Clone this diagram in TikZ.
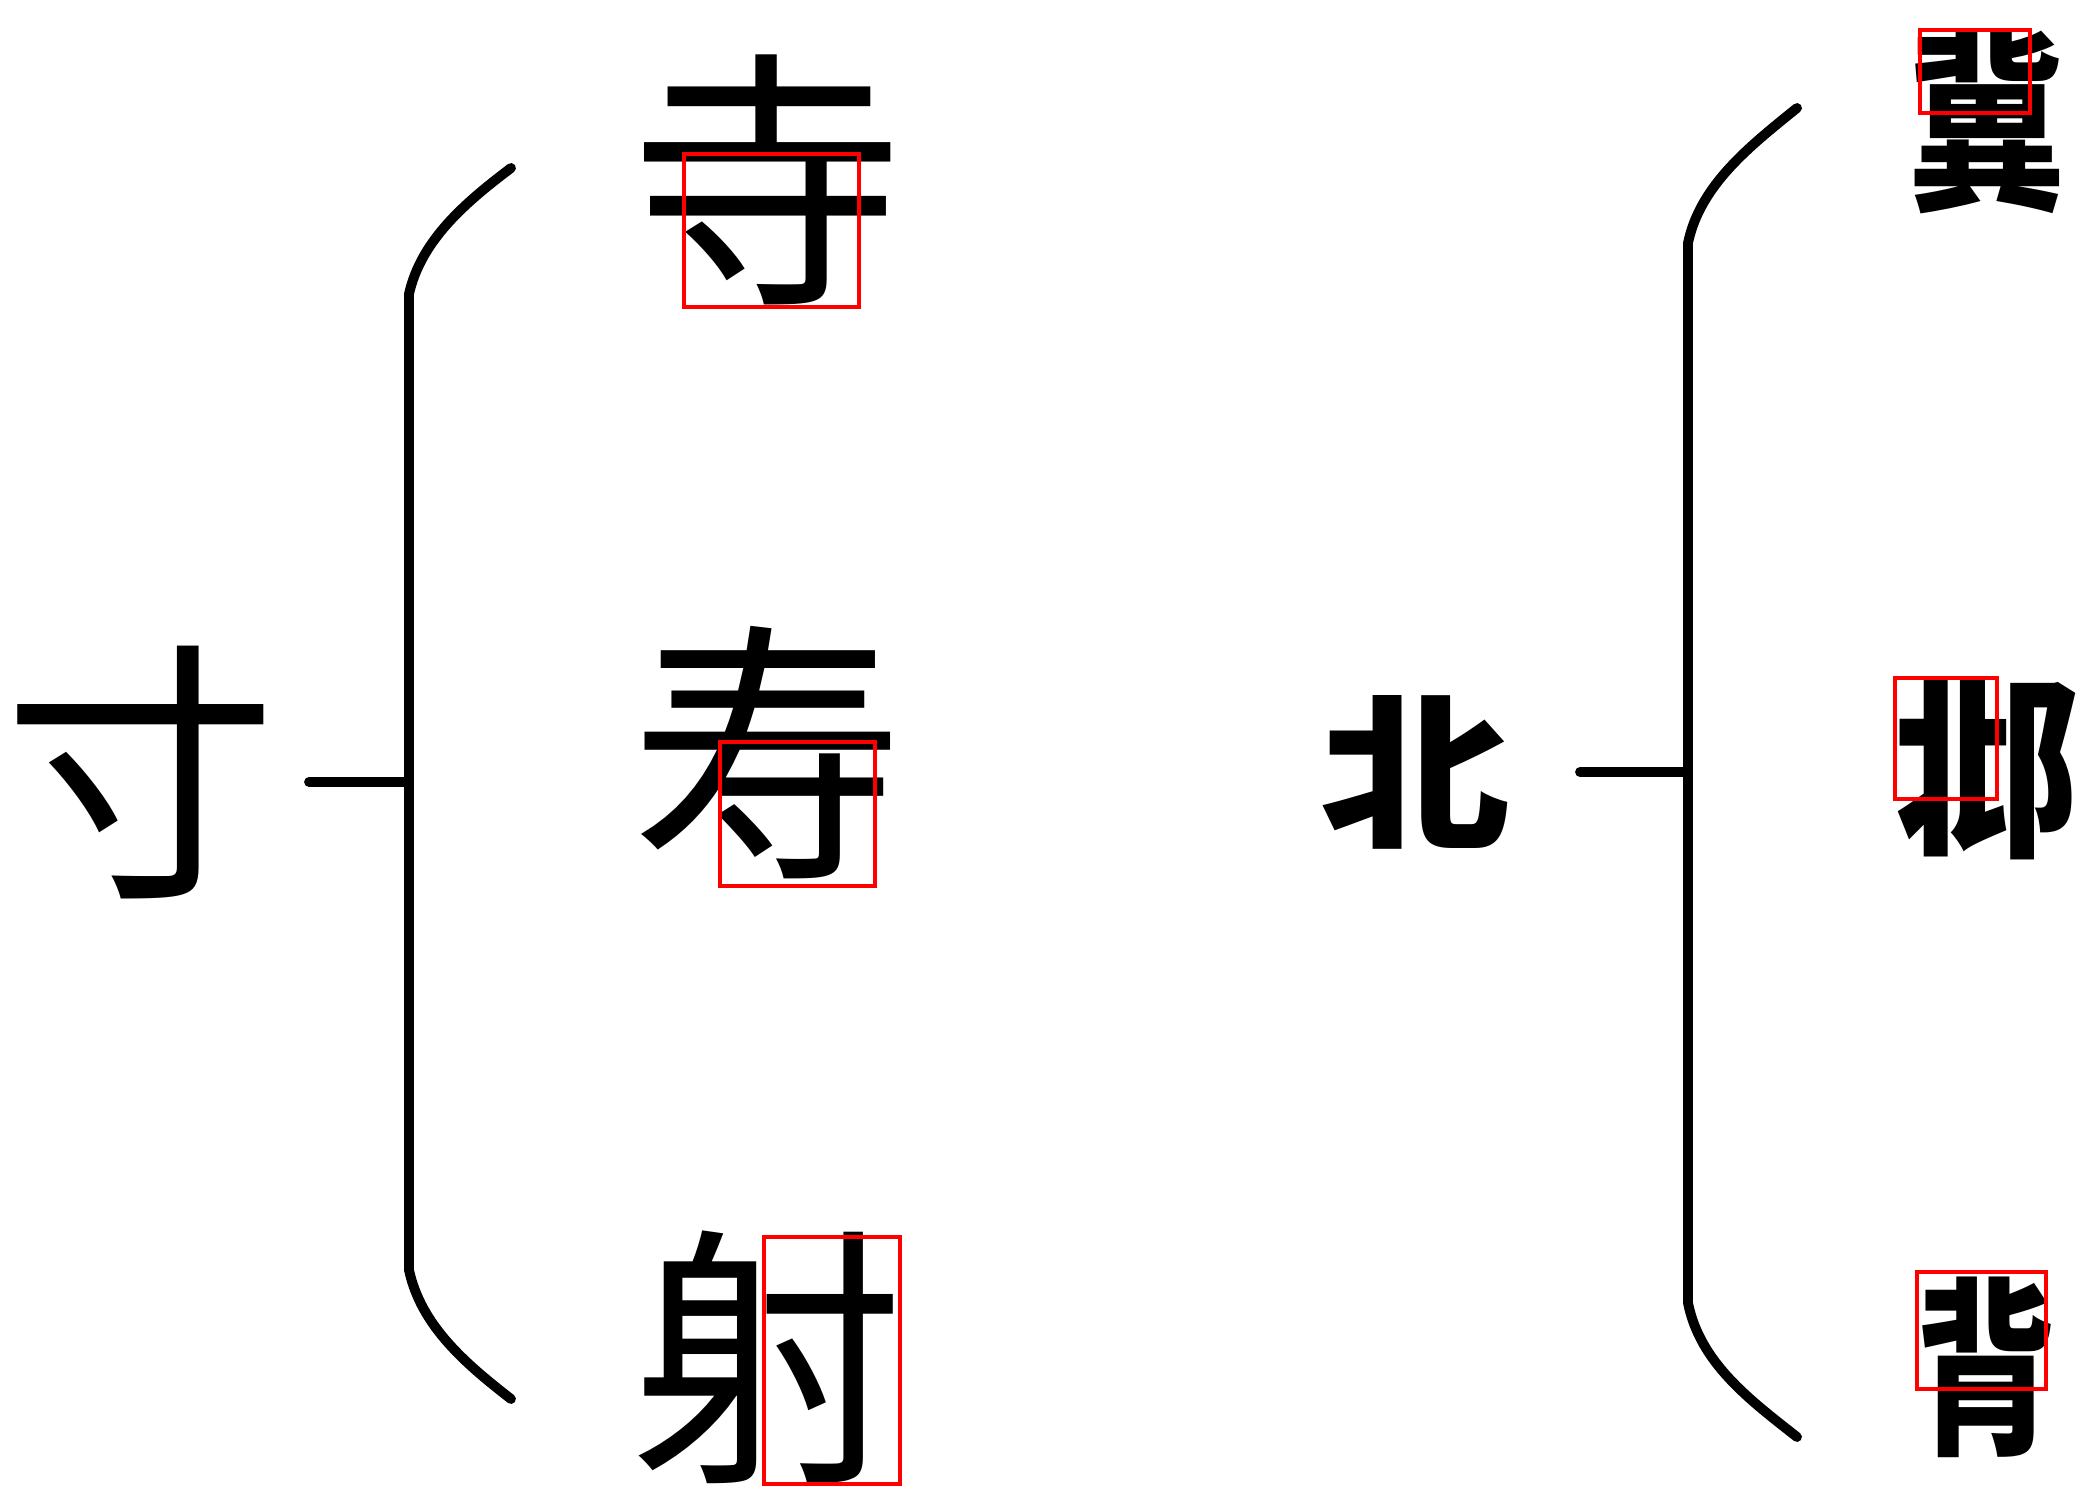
\documentclass[tikz,border=0pt]{standalone}
\usepackage{fontspec}
\newfontfamily\cjk{Noto Sans CJK SC}
\begin{document}
\begin{tikzpicture}[x=0.01cm,y=-0.01cm]
\tikzset{
  lchar/.style={font=\cjk\fontsize{78}{80}\selectfont, inner sep=0pt, anchor=center},
  rchar/.style={font=\cjk\bfseries\fontsize{60}{62}\selectfont, inner sep=0pt, anchor=center, transform shape},
  bracepath/.style={line width=2.8pt, line cap=round, line join=round},
  hibox/.style={draw=red, line width=1.3pt}
}
\useasboundingbox (0,0) rectangle (2091,1497);
% left group
\node[lchar] (cun) at (141,773) {寸};
\node[lchar] (si) at (768,180) {寺};
\node[lchar] (shou) at (768,753) {寿};
\node[lchar] (she) at (768,1357) {射};
\coordinate (lh) at (309,782);
\coordinate (lj) at (409,782);
\coordinate (lt) at (409,294);
\coordinate (lb) at (409,1270);
\coordinate (lte) at (511,168);
\coordinate (lbe) at (511,1399);
\draw[bracepath] (lh) -- (lj);
\draw[bracepath] (lte) .. controls (466,202) and (421,240) .. (lt) -- (lb) .. controls (421,1326) and (466,1364) .. (lbe);
% right group
\begin{scope}[shift={(1415,772)}, xscale=0.9, yscale=0.79]
  \node[rchar] (bei) at (0,0) {北};
\end{scope}
\begin{scope}[shift={(1987,121)}, xscale=0.745, yscale=0.92]
  \node[rchar] (ji) at (0,0) {冀};
\end{scope}
\begin{scope}[shift={(1987,768)}, xscale=0.88, yscale=0.93]
  \node[rchar] (beix) at (0,0) {邶};
\end{scope}
\begin{scope}[shift={(1986,1367)}, xscale=0.67, yscale=0.9]
  \node[rchar] (beib) at (0,0) {背};
\end{scope}
\coordinate (rh) at (1580,772);
\coordinate (rj) at (1688,772);
\coordinate (rt) at (1688,243);
\coordinate (rb) at (1688,1303);
\coordinate (rte) at (1797,108);
\coordinate (rbe) at (1797,1437);
\draw[bracepath] (rh) -- (rj);
\draw[bracepath] (rte) .. controls (1750,146) and (1700,185) .. (rt) -- (rb) .. controls (1700,1363) and (1750,1400) .. (rbe);
% highlight boxes
\draw[hibox] (684,154) rectangle (859,307);
\draw[hibox] (720,742) rectangle (875,886);
\draw[hibox] (764,1237) rectangle (900,1484);
\draw[hibox] (1920,30) rectangle (2030,113);
\draw[hibox] (1895,678) rectangle (1997,799);
\draw[hibox] (1917,1272) rectangle (2046,1389);
\end{tikzpicture}
\end{document}
